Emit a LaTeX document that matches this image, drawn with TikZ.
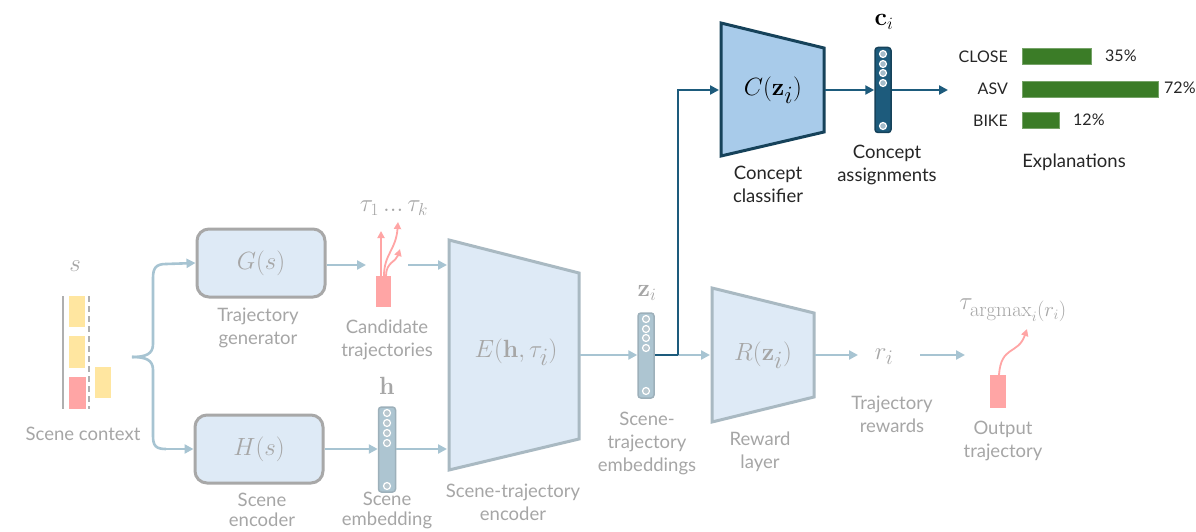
\documentclass[tikz,border=0pt]{standalone}
\usepackage{amsmath}
\usepackage[no-math]{fontspec}
\setmainfont{Lato}
\usetikzlibrary{arrows.meta}
\definecolor{gtxt}{HTML}{A6A6A6}
\definecolor{larr}{HTML}{A7C4D2}
\definecolor{bfill}{HTML}{DEEAF6}
\definecolor{bbord}{HTML}{A8A8A8}
\definecolor{tbord}{HTML}{A9B9C2}
\definecolor{barfill}{HTML}{ADC5D1}
\definecolor{barbord}{HTML}{9DB0BA}
\definecolor{lred}{HTML}{FFA5A5}
\definecolor{lyel}{HTML}{FFE6A0}
\definecolor{dblue}{HTML}{1D5B7C}
\definecolor{dbord}{HTML}{16425A}
\definecolor{cfill}{HTML}{A8CBEA}
\definecolor{grn}{HTML}{3B7C27}
\tikzset{
  lbl/.style={text=gtxt, font=\fontsize{18.5}{23}\selectfont, align=center, inner sep=0},
  dlbl/.style={text=black!85, font=\fontsize{18.5}{23}\selectfont, align=center, inner sep=0},
  mth/.style={text=gtxt, font=\fontsize{33}{35}\selectfont, inner sep=0},
  smth/.style={text=gtxt, font=\fontsize{25}{27}\selectfont, inner sep=0},
  larrow/.style={draw=larr, line width=2.6pt, -{Triangle[length=9pt,width=9pt]}},
  lline/.style={draw=larr, line width=2.6pt},
  darrow/.style={draw=dblue, line width=2.6pt, -{Triangle[length=9pt,width=9pt]}},
  rbox/.style={draw=bbord, fill=bfill, line width=3pt, rounded corners=12pt, minimum width=128pt, minimum height=68pt, inner sep=0},
  lbar/.style={draw=barbord, fill=barfill, line width=1.5pt, rounded corners=3pt, minimum width=17pt, minimum height=85pt, inner sep=0},
  dbar/.style={draw=dbord, fill=dblue, line width=1.5pt, rounded corners=3pt, minimum width=16pt, minimum height=85pt, inner sep=0},
  ldot/.style={draw=white, fill=barbord!70, line width=1.2pt, circle, minimum size=7pt, inner sep=0},
  ddot/.style={draw=white, fill=dblue!40, line width=1.2pt, circle, minimum size=7pt, inner sep=0},
  redarr/.style={draw=lred, line width=1.8pt, -{Triangle[length=7pt,width=7pt]}},
  gbar/.style={fill=grn, draw=grn!70!white, line width=0.8pt},
  exl/.style={text=black!85, font=\fontsize{16}{18}\selectfont, inner sep=0},
}
\begin{document}
\begin{tikzpicture}[x=1pt,y=-1pt]
\useasboundingbox (0,0) rectangle (1196,532);
\fill[white] (0,0) rectangle (1196,532);

% ---------- scene context ----------
\node[smth] (s) at (75,266) {$s$};
\draw[draw=gtxt!90, line width=2.6pt] (63,296) -- (63,409);
\fill[lyel] (69,296) rectangle (85,327);
\fill[lyel] (69,336) rectangle (85,368);
\fill[lred] (69,377) rectangle (86,409);
\draw[draw=gtxt!90, line width=2pt, dash pattern=on 6pt off 4pt] (89,296) -- (89,409);
\fill[lyel] (95,367) rectangle (111,398);
\node[lbl] (sctx) at (83,434) {Scene context};
\coordinate (btip) at (132,357);

% ---------- G and H ----------
\node[rbox] (G) at (261,263) {};
\node[mth] at (G.center) {$G(s)$};
\node[lbl] (Gl) at (258,328) {Trajectory\\generator};
\node[rbox] (H) at (259,449) {};
\node[mth] at (H.center) {$H(s)$};
\node[lbl, font=\fontsize{18.5}{20}\selectfont] (Hl) at (262,510) {Scene\\encoder};

% brace
\draw[lline] (btip) .. controls (146,357) and (153,354) .. (153,344) -- (153,278) .. controls (153,268) and (156,264) .. (166,264);
\draw[larrow] (166,264) -- (G.west);
\draw[lline] (btip) .. controls (146,357) and (153,360) .. (153,370) -- (153,436) .. controls (153,446) and (156,449) .. (166,449);
\draw[larrow] (166,449) -- (H.west);

% ---------- candidate trajectories ----------
\fill[lred] (376,276) rectangle (391,307);
\node (cand) at (383,291) {};
\draw[redarr] (381,276) -- (381,231);
\draw[redarr] (384,276) .. controls (384,254) and (396,250) .. (398,222);
\draw[redarr] (386,276) .. controls (386,262) and (396,262) .. (400,249);
\node[smth] (taus) at (394,208) {$\tau_1\,{\ldotp}{\ldotp}{\ldotp}\,\tau_k$};
\node[lbl] (candl) at (387,340) {Candidate\\trajectories};
\draw[larrow] (G.east |- 0,265) -- (366,265);

% ---------- h embedding ----------
\node[smth] (hl) at (387,386) {$\mathbf{h}$};
\node[lbar] (hbar) at (387,449.5) {};
\foreach \yy in {413,423,433,443,486} \node[ldot] at (387,\yy) {};
\node[lbl, font=\fontsize{18.5}{20}\selectfont] (hbl) at (387,510) {Scene\\embedding};
\draw[larrow] (H.east |- 0,449) -- (hbar.west |- 0,449);

% ---------- E encoder ----------
\coordinate (E1) at (449,240);
\coordinate (E2) at (579,273);
\coordinate (E3) at (579,439);
\coordinate (E4) at (449,470);
\draw[draw=tbord, fill=bfill, line width=3pt, line join=miter] (E1) -- (E2) -- (E3) -- (E4) -- cycle;
\node[mth] (E) at (516,352) {$E(\mathbf{h},\tau_i)$};
\node[lbl] (El) at (513,502) {Scene-trajectory\\encoder};
\draw[larrow] (408,265) -- (447,265);
\draw[larrow] (hbar.east |- 0,449) -- (447,449);

% ---------- z embedding ----------
\node[smth] (zl) at (647,293) {$\mathbf{z}_i$};
\node[lbar, minimum width=16pt] (zbar) at (646,355.5) {};
\foreach \yy in {319,329,338,348,391} \node[ldot] at (646,\yy) {};
\node[lbl] (zbl) at (647,443) {Scene-\\trajectory\\embeddings};
\draw[larrow] (580,355) -- (zbar.west |- 0,355);

% ---------- R reward ----------
\coordinate (R1) at (712,288);
\coordinate (R2) at (814,313);
\coordinate (R3) at (814,397);
\coordinate (R4) at (712,422);
\draw[draw=tbord, fill=bfill, line width=3pt, line join=miter] (R1) -- (R2) -- (R3) -- (R4) -- cycle;
\node[mth] (R) at (763,355) {$R(\mathbf{z}_i)$};
\node[lbl] (Rl) at (760,452) {Reward\\layer};
\coordinate (zjoin) at (678,355);
\draw[larrow] (zjoin) -- (710,355);
\draw[dblue, line width=2.6pt] (zbar.east |- 0,355) -- (zjoin);

% ---------- r_i ----------
\node[mth, font=\fontsize{30}{32}\selectfont] (r) at (884,357) {$r_i$};
\node[lbl] (rl) at (892,414) {Trajectory\\rewards};
\draw[larrow] (815,355) -- (858,355);
\draw[larrow] (920,355) -- (965,355);

% ---------- output ----------
\fill[lred] (990,375) rectangle (1006,408);
\node (out) at (998,391) {};
\draw[redarr] (999,375) .. controls (1001,345) and (1018,355) .. (1027,329);
\node[smth, font=\fontsize{28}{30}\selectfont] (targ) at (1013,310) {$\tau_{\mathrm{argmax}_i(r_i)}$};
\node[lbl] (outl) at (1003,441) {Output\\trajectory};

% ---------- concept classifier ----------
\coordinate (C1) at (721,23);
\coordinate (C2) at (824,48);
\coordinate (C3) at (824,132);
\coordinate (C4) at (721,156);
\draw[draw=dbord, fill=cfill, line width=3pt, line join=miter] (C1) -- (C2) -- (C3) -- (C4) -- cycle;
\node[mth, text=black] (C) at (773,90) {$C(\mathbf{z}_i)$};
\node[dlbl] (Cl) at (768,184) {Concept\\classifier};
\draw[darrow] (zjoin) -- (678,90) -- (719,90);

\node[smth, text=black] (cl) at (884,22) {$\mathbf{c}_i$};
\node[dbar] (cbar) at (883,90) {};
\foreach \yy in {54,64,73,83,126} \node[ddot] at (883,\yy) {};
\node[dlbl] (cbl) at (887,165) {Concept\\assignments};
\draw[darrow] (825,90) -- (cbar.west |- 0,90);
\draw[darrow] (cbar.east |- 0,90) -- (948,90);

% ---------- explanations ----------
\node[exl, anchor=east] (close) at (1008,57) {CLOSE};
\node[exl, anchor=east] (asv) at (1008,89) {ASV};
\node[exl, anchor=east] (bike) at (1008,121) {BIKE};
\draw[gbar] (1022,48) rectangle (1091,64);
\draw[gbar] (1022,81) rectangle (1158,97);
\draw[gbar] (1022,112) rectangle (1059,128);
\node[exl, anchor=west] (p1) at (1105,56) {35\%};
\node[exl, anchor=west] (p2) at (1164,88) {72\%};
\node[exl, anchor=west] (p3) at (1073,120) {12\%};
\node[dlbl] (expl) at (1074,162) {Explanations};
\end{tikzpicture}
\end{document}
